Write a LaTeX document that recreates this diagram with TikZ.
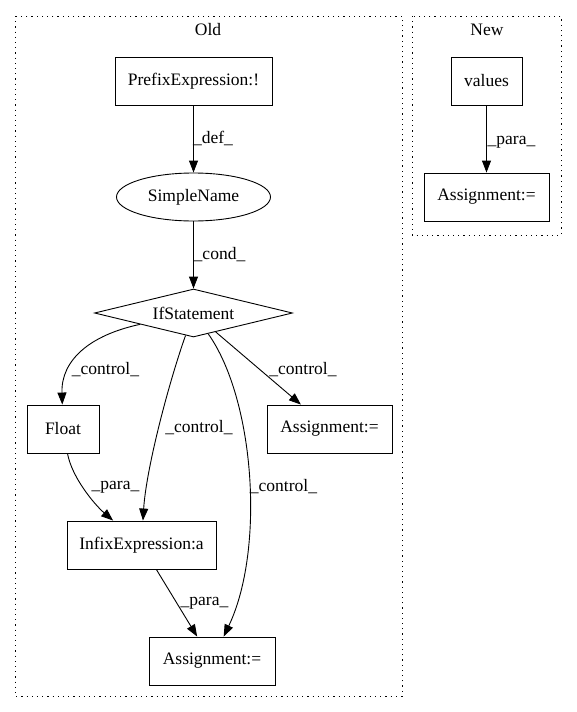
\documentclass[tikz,border=0pt]{standalone}
\usepackage{fontspec}
\setmainfont{Liberation Serif}
\usepackage{xcolor}
\usepackage{tikz}
\usetikzlibrary{positioning,arrows.meta,shapes.geometric}

\begin{document}
\begin{tikzpicture}[x=1pt, y=-1pt, font=\fontsize{17.5}{20}\selectfont,
		box/.style={draw, line width=0.9pt, minimum height=48pt, inner sep=0pt, align=center},
		oval/.style={draw, ellipse, line width=0.9pt, minimum width=154pt, minimum height=48pt, inner sep=0pt},
		cond/.style={draw, diamond, aspect=4.1, line width=0.9pt, minimum width=198pt, minimum height=48pt, inner sep=0pt},
		edge/.style={draw, line width=0.9pt, -{Triangle[length=12pt, width=9pt]}},
		lbl/.style={inner sep=0pt},
		cluster/.style={draw, line width=0.9pt, dash pattern=on 1.2pt off 4pt}]
		\useasboundingbox (0,0) rectangle (576,712);
		% clusters
		\draw[cluster] (15,16) rectangle (402,696);
		\node (oldlabel) at (208,30) {Old};
		\draw[cluster] (412,16) rectangle (561,235);
		\node (newlabel) at (487,30) {New};
		% old graph
		\node[box, minimum width=157pt] (prefix) at (193.5,81) {PrefixExpression:!};
		\node[oval] (simple) at (193.5,197) {SimpleName};
		\node[cond] (ifst) at (193.5,313) {IfStatement};
		\node[box, minimum width=72pt] (float) at (63,429) {Float};
		\node[box, minimum width=125pt] (assignr) at (329.5,429) {Assignment:=};
		\node[box, minimum width=149pt] (infix) at (141.5,545) {InfixExpression:a};
		\node[box, minimum width=126pt] (assignb) at (212,661) {Assignment:=};
		\draw[edge] (prefix) -- (simple);
		\node[lbl] (deflbl) at (213,138) {\_def\_};
		\draw[edge] (simple) -- (ifst);
		\node[lbl] (condlbl) at (219.5,255) {\_cond\_};
		\draw[edge] (ifst) .. controls (90,335) and (61,360) .. (float);
		\node[lbl] (ctrlfloat) at (105.5,370) {\_control\_};
		\draw[edge] (ifst) .. controls (168,385) and (146,470) .. (infix);
		\node[lbl] (ctrlinfix) at (199,428) {\_control\_};
		\draw[edge] (ifst) .. controls (255,400) and (265,550) .. (assignb);
		\node[lbl] (ctrlassignb) at (283.5,487) {\_control\_};
		\draw[edge] (ifst) -- (assignr);
		\node[lbl] (ctrlassignr) at (303,370) {\_control\_};
		\draw[edge] (float) .. controls (72,478) and (95,505) .. (infix);
		\node[lbl] (parafloat) at (115.5,487) {\_para\_};
		\draw[edge] (infix) -- (assignb);
		\node[lbl] (parainfix) at (204.5,603) {\_para\_};
		% new graph
		\node[box, minimum width=71pt] (values) at (486.5,81) {values};
		\node[box, minimum width=125pt] (assignn) at (486.5,197) {Assignment:=};
		\draw[edge] (values) -- (assignn);
		\node[lbl] (paranew) at (511.5,142) {\_para\_};
	\end{tikzpicture}
\end{document}
